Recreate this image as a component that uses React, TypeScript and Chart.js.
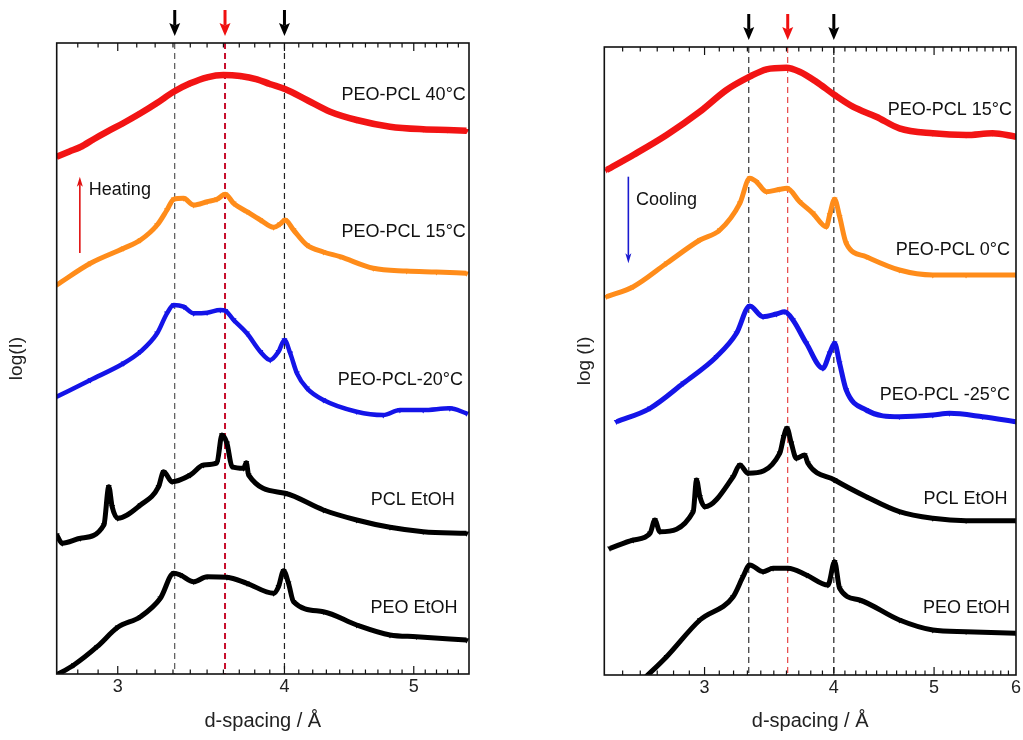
import React, { useEffect, useRef } from "react";
import { Chart, registerables } from "chart.js";
Chart.register(...registerables);

const FONT = '"Liberation Sans", Arial, Helvetica, sans-serif';

// ---------------- DATA: left panel (heating) ----------------
const xTicksLeft = [3, 4, 5];
const heat40D = [2.70, 2.76, 2.813, 2.88, 2.946, 3.03, 3.12, 3.21, 3.304, 3.40, 3.50, 3.60, 3.706, 3.815, 3.90, 4.007, 4.158, 4.328, 4.531, 4.799, 5.082, 5.30, 5.476];
const heat40I = [517.3, 522.5, 527, 535, 542.3, 551, 560.7, 571, 582.3, 590.7, 596.7, 599, 598, 594.7, 590, 584.7, 574, 562.3, 554, 547.3, 544.7, 544, 543.3];
const heat15D = [2.70, 2.862, 3.031, 3.120, 3.211, 3.266, 3.304, 3.361, 3.420, 3.500, 3.560, 3.612, 3.664, 3.749, 3.837, 3.926, 3.970, 4.005, 4.063, 4.158, 4.278, 4.403, 4.663, 4.939, 5.20, 5.476];
const heat15I = [389, 410.7, 425.7, 434, 449, 464, 474.7, 475.7, 469, 472.3, 474.7, 479.7, 470.7, 462.3, 454, 446.7, 450, 454, 444, 429, 422, 417.3, 405.7, 403, 402, 400.7];
const heatM20D = [2.70, 2.862, 3.031, 3.120, 3.211, 3.266, 3.304, 3.361, 3.420, 3.500, 3.581, 3.612, 3.664, 3.749, 3.837, 3.903, 3.959, 4.000, 4.040, 4.087, 4.158, 4.278, 4.531, 4.744, 4.882, 5.082, 5.321, 5.476];
const heatM20I = [277.3, 294, 310.7, 322.3, 340.7, 360.7, 369, 367.3, 360.7, 361.3, 364, 363.3, 354, 340.7, 322.3, 314, 322.3, 334, 320.7, 300.7, 285.7, 274, 262.3, 259, 264, 264, 265.7, 260.7];
const pclLeftD = [2.70, 2.726, 2.813, 2.929, 2.954, 2.971, 3.00, 3.120, 3.219, 3.247, 3.295, 3.400, 3.479, 3.560, 3.591, 3.622, 3.654, 3.728, 3.745, 3.760, 4.005, 4.278, 4.531, 4.799, 5.082, 5.476];
const pclLeftI = [139, 130.7, 135.7, 149, 187.3, 167.3, 155.7, 169, 187.3, 202.3, 192.3, 199, 209, 211.3, 239, 230.7, 207.3, 205.7, 211.3, 199, 180.7, 164, 154, 146.7, 142.3, 140.7];
const peoLeftD = [2.69, 2.781, 2.895, 3.00, 3.120, 3.229, 3.304, 3.342, 3.420, 3.500, 3.622, 3.749, 3.926, 3.959, 3.994, 4.028, 4.063, 4.278, 4.531, 4.799, 5.024, 5.476];
const peoLeftI = [-2, 9, 27.3, 46.7, 57.3, 75.7, 100.7, 99, 92.3, 97.3, 96.7, 90.7, 80.7, 87.3, 103.3, 90.7, 72.3, 62.3, 49, 39, 37.3, 34];

// ---------------- DATA: right panel (cooling) ----------------
const xTicksRight = [3, 4, 5, 6];
const cool15D = [2.413, 2.560, 2.757, 2.969, 3.150, 3.317, 3.443, 3.599, 3.707, 3.847, 4.007, 4.173, 4.396, 4.629, 4.986, 5.369, 5.695, 6.0];
const cool15I = [505, 520, 540, 563.3, 585, 598.3, 605.7, 607.3, 603.3, 593.3, 580, 568.3, 558.3, 546.7, 541.7, 540, 541.7, 538.3];
const cool0D = [2.413, 2.560, 2.757, 2.969, 3.104, 3.245, 3.317, 3.367, 3.443, 3.546, 3.604, 3.707, 3.818, 3.934, 3.963, 4.007, 4.052, 4.112, 4.299, 4.629, 4.986, 5.369, 6.0];
const cool0I = [378.3, 388.3, 411.7, 435, 445, 471.7, 496.7, 493.3, 483.3, 485.7, 486.7, 473.3, 461.7, 448.3, 460, 475.7, 458.3, 431.7, 418.3, 405, 400, 400, 400];
const coolM25D = [2.467, 2.657, 2.861, 3.081, 3.221, 3.317, 3.417, 3.520, 3.586, 3.652, 3.763, 3.904, 3.963, 4.007, 4.052, 4.112, 4.299, 4.629, 4.986, 5.174, 5.570, 6.0];
const coolM25I = [253.3, 266.7, 291.7, 318.3, 341.7, 369, 358.3, 361, 363.3, 355, 331.7, 306.7, 321.7, 331.7, 311.7, 285, 265, 258.3, 260, 261.7, 258.3, 253.3];
const pclRightD = [2.431, 2.560, 2.657, 2.686, 2.716, 2.925, 2.947, 2.969, 3.002, 3.197, 3.245, 3.305, 3.546, 3.578, 3.604, 3.639, 3.680, 3.749, 3.776, 4.007, 4.299, 4.629, 4.986, 5.369, 6.0];
const pclRightI = [126.7, 135, 141.7, 155, 143.3, 163.3, 195, 178.3, 168.3, 198.3, 210, 201.7, 221.7, 238.3, 246.7, 231.7, 216.7, 220, 211.7, 195, 178.3, 163.3, 156.7, 154.3, 154.3];
const peoRightD = [2.62, 2.757, 2.969, 3.197, 3.268, 3.317, 3.417, 3.494, 3.612, 3.763, 3.948, 4.007, 4.052, 4.236, 4.629, 4.986, 5.369, 6.0];
const peoRightI = [-4, 18.3, 55, 78.3, 98.3, 110, 103.3, 106.7, 106.7, 100, 90, 113.3, 86.7, 75, 55, 45, 43.3, 41.7];

// marker lines (d-spacing, Å)
const markerD = [3.31, 3.61, 4.0];

// curve labels
const leftLabelText = ["PEO-PCL 40°C", "PEO-PCL 15°C", "PEO-PCL-20°C", "PCL EtOH", "PEO EtOH"];
const leftLabelD = [5.47, 5.47, 5.444, 5.367, 5.392];
const leftLabelI = [579, 442, 294, 174, 65.7];
const rightLabelText = ["PEO-PCL 15°C", "PEO-PCL 0°C", "PEO-PCL -25°C", "PCL EtOH", "PEO EtOH"];
const rightLabelD = [5.947, 5.92, 5.92, 5.889, 5.92];
const rightLabelI = [565, 425, 280, 175.7, 66.7];

const RED = "#f21414";
const ORANGE = "#ff8c1a";
const BLUE = "#1414e8";
const BLACK = "#000000";

type Series = { label: string; d: number[]; I: number[]; color: string; width: number };

const leftSeries: Series[] = [
  { label: "PEO-PCL 40°C", d: heat40D, I: heat40I, color: RED, width: 6.5 },
  { label: "PEO-PCL 15°C", d: heat15D, I: heat15I, color: ORANGE, width: 5 },
  { label: "PEO-PCL-20°C", d: heatM20D, I: heatM20I, color: BLUE, width: 4.5 },
  { label: "PCL EtOH", d: pclLeftD, I: pclLeftI, color: BLACK, width: 5 },
  { label: "PEO EtOH", d: peoLeftD, I: peoLeftI, color: BLACK, width: 5 },
];
const rightSeries: Series[] = [
  { label: "PEO-PCL 15°C", d: cool15D, I: cool15I, color: RED, width: 6.5 },
  { label: "PEO-PCL 0°C", d: cool0D, I: cool0I, color: ORANGE, width: 5 },
  { label: "PEO-PCL -25°C", d: coolM25D, I: coolM25I, color: BLUE, width: 5 },
  { label: "PCL EtOH", d: pclRightD, I: pclRightI, color: BLACK, width: 5 },
  { label: "PEO EtOH", d: peoRightD, I: peoRightI, color: BLACK, width: 5 },
];

function drawArrow(ctx: CanvasRenderingContext2D, x: number, y0: number, y1: number, color: string, shaftW: number, headW: number, headL: number, notch: number) {
  const dir = Math.sign(y1 - y0);
  ctx.strokeStyle = color;
  ctx.fillStyle = color;
  ctx.lineWidth = shaftW;
  ctx.setLineDash([]);
  ctx.beginPath();
  ctx.moveTo(x, y0);
  ctx.lineTo(x, y1 - dir * headL * notch);
  ctx.stroke();
  ctx.beginPath();
  ctx.moveTo(x, y1);
  ctx.lineTo(x - headW / 2, y1 - dir * headL);
  ctx.lineTo(x, y1 - dir * headL * notch);
  ctx.lineTo(x + headW / 2, y1 - dir * headL);
  ctx.closePath();
  ctx.fill();
}

const decorPlugin = {
  id: "decor",
  beforeDatasetsDraw(chart: any, _args: any, opts: any) {
    const { ctx, chartArea: a } = chart;
    const x = chart.scales.x;
    ctx.save();
    opts.vlines.forEach((v: any) => {
      const px = x.getPixelForValue(v.d);
      ctx.strokeStyle = v.color;
      ctx.lineWidth = v.width;
      ctx.setLineDash([6, 4]);
      ctx.beginPath();
      ctx.moveTo(px, a.top);
      ctx.lineTo(px, a.bottom);
      ctx.stroke();
    });
    ctx.restore();
  },
  afterDraw(chart: any, _args: any, opts: any) {
    const { ctx, chartArea: a } = chart;
    const x = chart.scales.x;
    const y = chart.scales.y;
    ctx.save();
    // frame
    ctx.setLineDash([]);
    ctx.strokeStyle = "#111";
    ctx.lineWidth = 1.6;
    ctx.strokeRect(a.left, a.top, a.right - a.left, a.bottom - a.top);
    // inward ticks on bottom and top
    ctx.lineWidth = 1.2;
    const lo = Math.ceil(x.min * 10 - 1e-6);
    const hi = Math.floor(x.max * 10 + 1e-6);
    for (let k = lo; k <= hi; k++) {
      const v = k / 10;
      const px = x.getPixelForValue(v);
      if (px <= a.left + 1 || px >= a.right - 1) continue;
      const major = k % 10 === 0;
      const len = major ? 8 : 4.5;
      ctx.beginPath();
      ctx.moveTo(px, a.bottom);
      ctx.lineTo(px, a.bottom - len);
      ctx.moveTo(px, a.top);
      ctx.lineTo(px, a.top + len);
      ctx.stroke();
    }
    // arrows above the frame
    opts.vlines.forEach((v: any) => {
      const px = x.getPixelForValue(v.d);
      drawArrow(ctx, px, a.top - 33, a.top - 7, v.arrow, 3, 11, 13, 0.8);
    });
    // curve labels
    ctx.fillStyle = "#111";
    ctx.font = `18px ${FONT}`;
    ctx.textBaseline = "middle";
    ctx.textAlign = "right";
    opts.labels.text.forEach((t: string, i: number) => {
      ctx.fillText(t, x.getPixelForValue(opts.labels.d[i]), y.getPixelForValue(opts.labels.I[i]));
    });
    // heating / cooling note
    const n = opts.note;
    ctx.textAlign = "left";
    ctx.fillStyle = "#111";
    ctx.fillText(n.text, x.getPixelForValue(n.textD), y.getPixelForValue(n.textI));
    drawArrow(ctx, x.getPixelForValue(n.arrowD), y.getPixelForValue(n.fromI), y.getPixelForValue(n.toI), n.color, 1.6, 6, 10, 0.75);
    ctx.restore();
  },
};

function buildConfig(p: any) {
  return {
    type: "line",
    data: {
      datasets: p.series.map((s: Series) => ({
        label: s.label,
        data: s.d.map((d, i) => ({ x: d, y: s.I[i] })),
        borderColor: s.color,
        backgroundColor: s.color,
        borderWidth: s.width,
        pointStyle: "triangle",
        rotation: 180,
        pointRadius: 3.4,
        pointBorderWidth: 0,
        cubicInterpolationMode: "monotone",
        fill: false,
        clip: 0,
      })),
    },
    options: {
      responsive: false,
      animation: false,
      events: [],
      layout: { padding: { left: 0, right: p.padRight, top: p.padTop, bottom: 0 } },
      plugins: {
        legend: { display: false },
        tooltip: { enabled: false },
        decor: {
          vlines: p.vlines,
          labels: p.labels,
          note: p.note,
        },
      },
      scales: {
        x: {
          type: "logarithmic",
          min: p.xMin,
          max: p.xMax,
          grid: { display: false, drawTicks: false },
          border: { display: false },
          afterBuildTicks: (s: any) => {
            s.ticks = p.xTicks.map((v: number) => ({ value: v }));
          },
          ticks: {
            autoSkip: false,
            maxRotation: 0,
            minRotation: 0,
            padding: 2,
            color: "#222",
            font: { family: FONT, size: 18 },
            callback: (v: any) => String(v),
          },
          title: {
            display: true,
            text: "d-spacing / Å",
            color: "#222",
            font: { family: FONT, size: 20 },
            padding: { top: p.xTitleTop, bottom: 7 },
          },
        },
        y: {
          type: "linear",
          min: 0,
          max: p.yMax,
          grid: { display: false, drawTicks: false },
          border: { display: false },
          ticks: { display: false },
          title: {
            display: true,
            text: p.yTitle,
            color: "#222",
            font: { family: FONT, size: 19 },
            padding: { top: p.yTitleTop, bottom: p.yTitleBottom },
          },
        },
      },
    },
    plugins: [decorPlugin],
  };
}

const leftPanel = {
  series: leftSeries,
  xMin: 2.7,
  xMax: 5.5,
  xTicks: xTicksLeft,
  yMax: 631,
  padTop: 43,
  padRight: 31,
  xTitleTop: 9.4,
  yTitle: "log(I)",
  yTitleTop: 5.6,
  yTitleBottom: 28.3,
  vlines: [
    { d: markerD[0], color: "#333", width: 1, arrow: "#000" },
    { d: markerD[1], color: "#c8102e", width: 2, arrow: "#f01010" },
    { d: markerD[2], color: "#222", width: 1.2, arrow: "#000" },
  ],
  labels: { text: leftLabelText, d: leftLabelD, I: leftLabelI },
  note: { text: "Heating", textD: 2.854, textI: 484, arrowD: 2.81, fromI: 421, toI: 497.3, color: "#e01010" },
};

const rightPanel = {
  series: rightSeries,
  xMin: 2.4,
  xMax: 6.0,
  xTicks: xTicksRight,
  yMax: 628,
  padTop: 47,
  padRight: 6.3,
  xTitleTop: 8.4,
  yTitle: "log (I)",
  yTitleTop: 33.6,
  yTitleBottom: 7.9,
  vlines: [
    { d: markerD[0], color: "#333", width: 1.2, arrow: "#000" },
    { d: markerD[1], color: "#e02020", width: 1, arrow: "#f01010" },
    { d: markerD[2], color: "#222", width: 1.2, arrow: "#000" },
  ],
  labels: { text: rightLabelText, d: rightLabelD, I: rightLabelI },
  note: { text: "Cooling", textD: 2.575, textI: 475, arrowD: 2.532, fromI: 498.3, toI: 411.7, color: "#1a1ad0" },
};

function Panel({ panel, left, width }: { panel: any; left: number; width: number }) {
  const ref = useRef<HTMLCanvasElement>(null);
  useEffect(() => {
    const chart = new Chart(ref.current as HTMLCanvasElement, buildConfig(panel) as any);
    return () => chart.destroy();
  }, [panel]);
  return (
    <div style={{ position: "absolute", left, top: 0, width, height: 740 }}>
      <canvas ref={ref} width={width} height={740} style={{ display: "block" }} />
    </div>
  );
}

export default function App() {
  return (
    <div style={{ position: "absolute", left: 0, top: 0, width: 1023, height: 740, background: "#fff", overflow: "hidden" }}>
      <Panel panel={leftPanel} left={0} width={500} />
      <Panel panel={rightPanel} left={540} width={483} />
    </div>
  );
}
